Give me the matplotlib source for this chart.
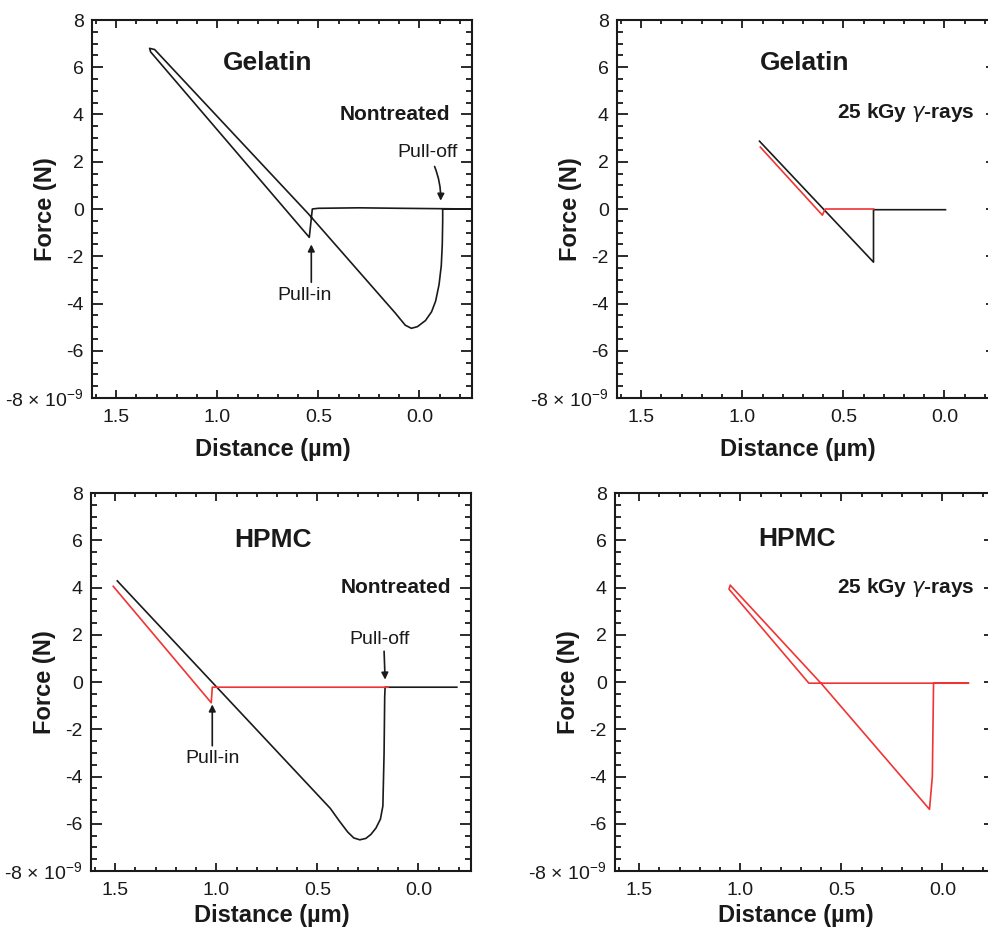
import matplotlib
matplotlib.use("Agg")
import matplotlib.pyplot as plt
from matplotlib.ticker import MultipleLocator

plt.rcParams['font.family'] = ['Liberation Sans', 'DejaVu Sans']
plt.rcParams['axes.unicode_minus'] = False

# Force-distance curves (distance in um, force in nN)
# Gelatin, nontreated: approach then retract, one black trace
gel_nt_x = [-0.26, 0.10, 0.30, 0.50, 0.53, 0.545, 1.33, 1.335, 1.31, 0.55, 0.12,
            0.07, 0.04, 0.01, -0.03, -0.06, -0.08, -0.097, -0.108, -0.113, -0.115, -0.115, -0.26]
gel_nt_y = [0.0, 0.03, 0.05, 0.03, 0.0, -1.2, 6.65, 6.8, 6.75, -0.2, -4.4,
            -4.92, -5.05, -4.98, -4.72, -4.35, -3.9, -3.2, -2.4, -1.5, -0.5, 0.0, 0.0]

# Gelatin, 25 kGy
gel_ir_black_x = [0.915, 0.351, 0.351, 0.20, -0.005]
gel_ir_black_y = [2.87, -2.25, -0.03, -0.03, -0.03]
gel_ir_red_x = [0.35, 0.59, 0.604, 0.911]
gel_ir_red_y = [0.0, 0.0, -0.26, 2.62]

# HPMC, nontreated
hpmc_nt_black_x = [1.49, 0.436, 0.39, 0.35, 0.32, 0.29, 0.26, 0.235, 0.21, 0.188,
                   0.176, 0.17, 0.167, 0.165, -0.19]
hpmc_nt_black_y = [4.28, -5.35, -5.9, -6.35, -6.6, -6.68, -6.62, -6.45, -6.18, -5.8,
                   -5.25, -3.0, -0.64, -0.22, -0.22]
hpmc_nt_red_x = [0.15, 1.02, 1.025, 1.51]
hpmc_nt_red_y = [-0.22, -0.22, -0.88, 4.05]

# HPMC, 25 kGy (red only)
hpmc_ir_x = [-0.128, 0.661, 1.056, 1.05, 0.597, 0.064, 0.05, 0.044, -0.128]
hpmc_ir_y = [-0.05, -0.05, 3.93, 4.1, -0.09, -5.39, -4.0, -0.05, -0.05]

x_ticks = [1.5, 1.0, 0.5, 0.0]
y_ticks = [-8, -6, -4, -2, 0, 2, 4, 6, 8]
y_tick_labels = [r'-8 × 10$^{\mathregular{-9}}$', '-6', '-4', '-2', '0', '2', '4', '6', '8']

BLACK = '#1a1a1a'
RED = '#f03434'

fig = plt.figure(figsize=(9.88, 9.3), dpi=100)
w, h = 380 / 988, 378 / 930
# the right-hand panels run slightly past the right edge of the picture
ax_tl = fig.add_axes([92 / 988, 532 / 930, w, h])
ax_tr = fig.add_axes([617 / 988, 532 / 930, w, h])
ax_bl = fig.add_axes([91 / 988, 59 / 930, w, h])
ax_br = fig.add_axes([615 / 988, 59 / 930, w, h])


def style_axes(ax, xlabel_y):
    ax.set_xlim(1.62, -0.26)
    ax.set_ylim(-8, 8)
    ax.set_xticks(x_ticks)
    ax.set_xticklabels([f"{t:.1f}" for t in x_ticks])
    ax.set_yticks(y_ticks)
    ax.set_yticklabels(y_tick_labels)
    ax.xaxis.set_minor_locator(MultipleLocator(0.1))
    ax.yaxis.set_minor_locator(MultipleLocator(0.5))
    ax.tick_params(axis='x', which='both', direction='in', top=True, bottom=True,
                   labelsize=14, colors=BLACK, width=1.3, pad=8)
    ax.tick_params(axis='y', which='both', direction='in', left=True, right=True,
                   labelsize=14, colors=BLACK, width=1.3, pad=6)
    ax.tick_params(axis='x', which='major', length=6)
    ax.tick_params(axis='x', which='minor', length=3)
    ax.tick_params(axis='y', which='major', length=8)
    ax.tick_params(axis='y', which='minor', length=4)
    for sp in ax.spines.values():
        sp.set_linewidth(1.5)
        sp.set_color(BLACK)
    ax.set_xlabel('Distance (µm)', fontsize=17, fontweight='bold', color=BLACK)
    ax.set_ylabel('Force (N)', fontsize=17, fontweight='bold', color=BLACK)
    ax.xaxis.set_label_coords(0.476, xlabel_y)
    ax.yaxis.set_label_coords(-0.092, 0.5)


def arrow(ax, tail, tip, rad=0.0):
    ax.annotate('', xy=tip, xytext=tail,
                arrowprops=dict(arrowstyle='-|>', color=BLACK, lw=1.2,
                                mutation_scale=10, shrinkA=0, shrinkB=0,
                                connectionstyle=f'arc3,rad={rad}'))


# Gelatin, nontreated
ax = ax_tl
ax.plot(gel_nt_x, gel_nt_y, color=BLACK, lw=1.2)
style_axes(ax, -0.105)
ax.text(0.75, 6.2, 'Gelatin', fontsize=19, fontweight='bold', ha='center', va='center', color=BLACK)
ax.text(-0.15, 4.0, 'Nontreated', fontsize=15, fontweight='bold', ha='right', va='center', color=BLACK)
ax.text(-0.04, 2.4, 'Pull-off', fontsize=14, ha='center', va='center', color=BLACK)
arrow(ax, (-0.075, 1.8), (-0.105, 0.35), rad=-0.1)
ax.text(0.57, -3.65, 'Pull-in', fontsize=14, ha='center', va='center', color=BLACK)
arrow(ax, (0.535, -3.1), (0.535, -1.5))

# Gelatin, 25 kGy
ax = ax_tr
ax.plot(gel_ir_black_x, gel_ir_black_y, color=BLACK, lw=1.2)
ax.plot(gel_ir_red_x, gel_ir_red_y, color=RED, lw=1.2)
style_axes(ax, -0.105)
ax.text(0.69, 6.2, 'Gelatin', fontsize=19, fontweight='bold', ha='center', va='center', color=BLACK)
ax.text(-0.15, 4.1, r'25 kGy $\gamma$-rays', fontsize=15, fontweight='bold', ha='right', va='center', color=BLACK)

# HPMC, nontreated
ax = ax_bl
ax.plot(hpmc_nt_black_x, hpmc_nt_black_y, color=BLACK, lw=1.2)
ax.plot(hpmc_nt_red_x, hpmc_nt_red_y, color=RED, lw=1.2)
style_axes(ax, -0.088)
ax.text(0.72, 6.0, 'HPMC', fontsize=19, fontweight='bold', ha='center', va='center', color=BLACK)
ax.text(-0.16, 4.0, 'Nontreated', fontsize=15, fontweight='bold', ha='right', va='center', color=BLACK)
ax.text(0.19, 1.8, 'Pull-off', fontsize=14, ha='center', va='center', color=BLACK)
arrow(ax, (0.17, 1.3), (0.165, 0.1))
ax.text(1.02, -3.25, 'Pull-in', fontsize=14, ha='center', va='center', color=BLACK)
arrow(ax, (1.02, -2.7), (1.02, -0.95))

# HPMC, 25 kGy
ax = ax_br
ax.plot(hpmc_ir_x, hpmc_ir_y, color=RED, lw=1.2)
style_axes(ax, -0.088)
ax.text(0.72, 6.05, 'HPMC', fontsize=19, fontweight='bold', ha='center', va='center', color=BLACK)
ax.text(-0.16, 4.0, r'25 kGy $\gamma$-rays', fontsize=15, fontweight='bold', ha='right', va='center', color=BLACK)

fig.savefig('out.png', dpi=100)
